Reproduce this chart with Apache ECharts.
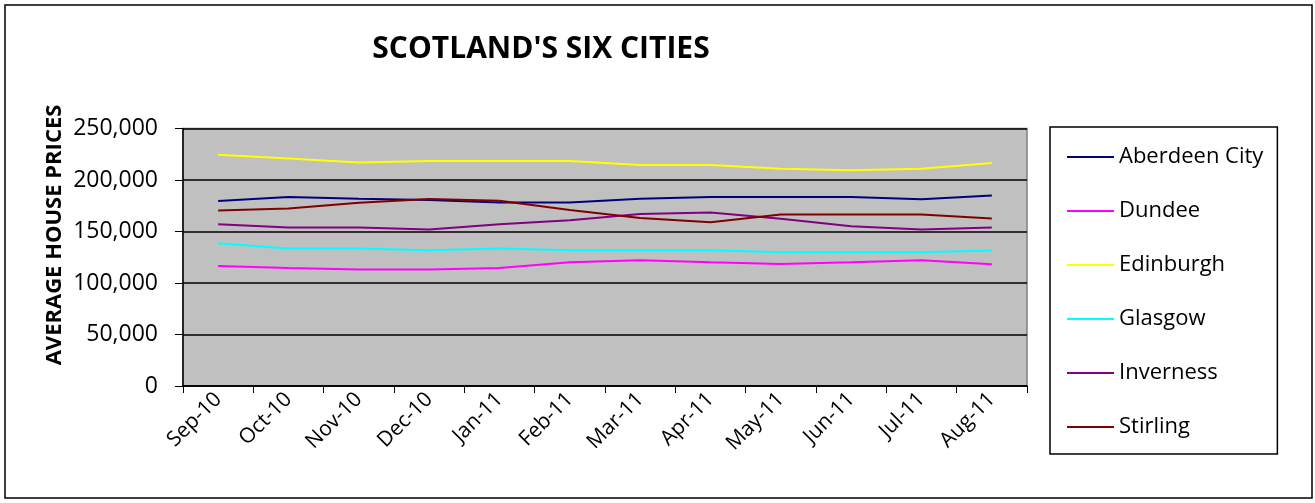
<!DOCTYPE html>
<html>
<head>
<meta charset="utf-8">
<script src="https://cdn.jsdelivr.net/npm/echarts@6/dist/echarts.min.js"></script>
<style>
  html, body { margin: 0; padding: 0; background: #fff; }
  #chart { width: 1315px; height: 503px; }
</style>
</head>
<body>
<div id="chart"></div>
<script>
// months on the x axis
const months = ['Sep-10', 'Oct-10', 'Nov-10', 'Dec-10', 'Jan-11', 'Feb-11',
  'Mar-11', 'Apr-11', 'May-11', 'Jun-11', 'Jul-11', 'Aug-11'];

// average house prices
const aberdeen  = [179500, 183400, 181800, 180500, 178200, 178200, 181800, 183400, 183400, 183400, 181200, 185000];
const dundee    = [116600, 114600, 113000, 113000, 114600, 120100, 122100, 120100, 118500, 120100, 122100, 118200];
const edinburgh = [224400, 220800, 216900, 218500, 218500, 218500, 214600, 214600, 211000, 209400, 211000, 216600];
const glasgow   = [138600, 133400, 133400, 131800, 133400, 131800, 131800, 131800, 129900, 129900, 129900, 131500];
const inverness = [157100, 153900, 153900, 151900, 157100, 161000, 166900, 168500, 162300, 155200, 151900, 153900];
const stirling  = [170500, 172400, 177900, 181500, 179900, 170800, 163000, 159000, 166600, 166600, 166600, 162700];

const cities = ['Aberdeen City', 'Dundee', 'Edinburgh', 'Glasgow', 'Inverness', 'Stirling'];
const values = [aberdeen, dundee, edinburgh, glasgow, inverness, stirling];
const colors = ['#000080', '#FF00FF', '#FFFF00', '#00FFFF', '#800080', '#800000'];

const font = '"Open Sans", "Liberation Sans", sans-serif';

const chart = echarts.init(document.getElementById('chart'));
chart.setOption({
  animation: false,
  textStyle: { fontFamily: font },
  title: {
    text: "SCOTLAND'S SIX CITIES",
    left: 536,
    textAlign: 'center',
    top: 29,
    textStyle: { fontSize: 30, fontWeight: 'bold', color: '#000', fontFamily: font }
  },
  graphic: [{
    type: 'rect',
    shape: { x: 5, y: 5, width: 1307, height: 493 },
    style: { fill: 'none', stroke: '#000', lineWidth: 1.5 },
    silent: true
  }, {
    // y axis title, sits a bit above the middle of the plot
    type: 'text',
    x: 55, y: 235,
    rotation: Math.PI / 2,
    style: {
      text: 'AVERAGE HOUSE PRICES',
      font: 'bold 22px ' + font,
      fill: '#000',
      align: 'center',
      verticalAlign: 'middle'
    },
    silent: true
  }],
  legend: {
    orient: 'vertical',
    left: 1050,
    top: 127,
    padding: [19, 14, 16, 16],
    borderColor: '#000',
    borderWidth: 1.5,
    itemWidth: 47,
    itemHeight: 20,
    itemGap: 32,
    itemStyle: { opacity: 0 },
    textStyle: { fontSize: 22, color: '#000', fontFamily: font },
    data: cities
  },
  grid: {
    left: 183, right: 288, top: 128.5, bottom: 117,
    show: true,
    backgroundColor: '#C0C0C0',
    borderColor: '#808080',
    borderWidth: 1.5
  },
  xAxis: {
    type: 'category',
    data: months,
    boundaryGap: true,
    axisLine: { lineStyle: { color: '#000', width: 1.5 } },
    axisTick: { show: true, interval: 0, length: 7, lineStyle: { color: '#000' } },
    axisLabel: { rotate: 45, fontSize: 21, color: '#000', margin: 10, interval: 0 }
  },
  yAxis: {
    type: 'value',
    min: 0,
    max: 250000,
    interval: 50000,
    axisLine: { show: true, lineStyle: { color: '#000', width: 1.5 } },
    axisTick: { show: true, length: 8, lineStyle: { color: '#000' } },
    axisLabel: {
      fontSize: 23, color: '#000', margin: 25,
      formatter: v => v.toLocaleString('en-US')
    },
    splitLine: { lineStyle: { color: '#000', width: 1.5 } }
  },
  series: cities.map((name, i) => ({
    name,
    type: 'line',
    data: values[i],
    symbol: 'none',
    color: colors[i],
    lineStyle: { color: colors[i], width: 2 }
  }))
});
</script>
</body>
</html>
